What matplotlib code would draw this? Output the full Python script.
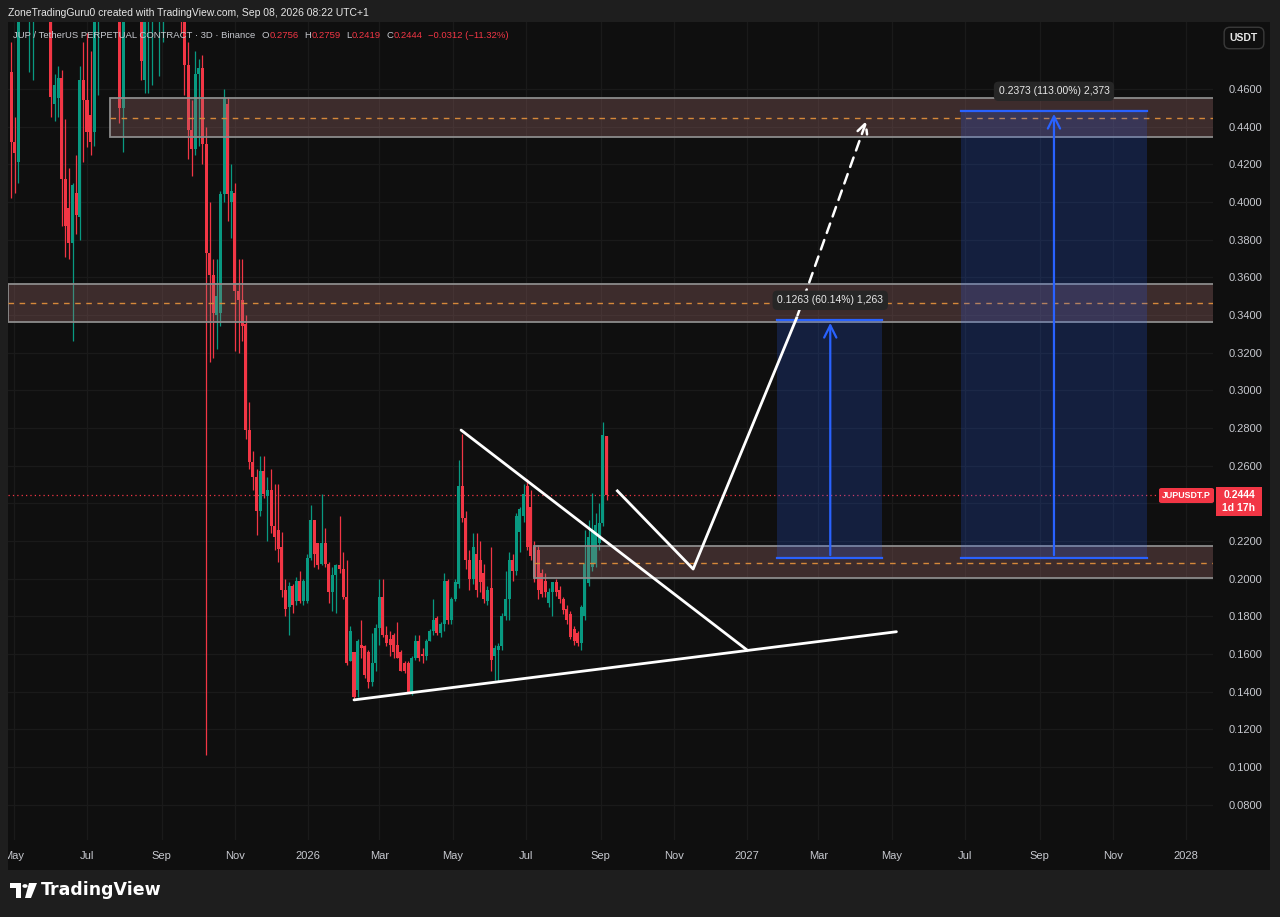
import numpy as np
import pandas as pd
import matplotlib
matplotlib.use("Agg")
import matplotlib.pyplot as plt
import matplotlib.dates as mdates
from matplotlib.patches import Rectangle, Polygon, Circle, FancyBboxPatch
from matplotlib.transforms import Bbox, TransformedBbox

plt.rcParams['font.family'] = ['Liberation Sans', 'DejaVu Sans']

# JUPUSDT.P bougies 3D, du 29 avr 2025 au 6 sept 2026
debut = "2025-04-29"
opens = [
    .469, .432, .421, .510, .540, .510, .500, .520, .550, .530,   # 0
    .510, .510, .452, .455, .466, .412, .397, .378, .405, .392,   # 10
    .465, .454, .446, .437, .500, .530, .560, .550, .530, .545,   # 20
    .520, .450, .510, .525, .515, .530, .510, .465, .500, .520,   # 30
    .540, .520, .540, .550, .580, .560, .520, .535, .510, .473,   # 40
    .438, .428, .468, .471, .431, .373, .361, .340, .341, .404,   # 50
    .452, .400, .405, .353, .348, .335, .279, .262, .254, .236,   # 60
    .257, .244, .247, .228, .226, .217, .194, .185, .196, .188,   # 70
    .199, .188, .188, .211, .231, .219, .208, .219, .208, .193,   # 80
    .202, .207, .205, .190, .156, .161, .141, .165, .164, .161,   # 90
    .145, .155, .174, .190, .170, .168, .170, .165, .161, .155,   # 100
    .155, .140, .158, .167, .160, .159, .167, .172, .179, .171,   # 110
    .176, .199, .178, .189, .197, .249, .232, .210, .200, .213,   # 120
    .210, .203, .188, .195, .159, .162, .164, .180, .189, .210,   # 130
    .204, .225, .233, .249, .238, .217, .215, .203, .199, .187,   # 140
    .193, .198, .194, .189, .184, .181, .173, .171, .1656, .180,  # 150
    .1975, .2063, .208, .2187, .2293, .2756,                      # 160
]
highs = [
    .485, .445, .520, .560, .570, .550, .540, .560, .580, .550,
    .530, .520, .468, .472, .470, .444, .418, .410, .425, .472,
    .485, .490, .480, .520, .540, .570, .600, .580, .560, .570,
    .530, .530, .540, .550, .540, .550, .520, .520, .530, .550,
    .570, .550, .560, .600, .620, .580, .550, .550, .520, .485,
    .454, .480, .476, .478, .440, .400, .370, .370, .406, .460,
    .456, .420, .410, .370, .370, .340, .294, .268, .258, .265,
    .265, .254, .258, .250, .250, .225, .200, .198, .197, .201,
    .204, .200, .213, .239, .231, .219, .245, .227, .209, .206,
    .208, .233, .214, .210, .175, .161, .168, .178, .165, .162,
    .171, .176, .200, .200, .175, .172, .171, .177, .162, .156,
    .156, .159, .170, .170, .163, .168, .173, .189, .180, .177,
    .203, .200, .190, .200, .263, .277, .236, .215, .224, .224,
    .220, .208, .196, .217, .165, .166, .182, .204, .214, .213,
    .235, .238, .250, .253, .247, .220, .218, .205, .203, .195,
    .198, .200, .196, .190, .186, .183, .175, .172, .186, .226,
    .231, .2453, .235, .240, .2833, .2759,
]
lows = [
    .402, .405, .410, .500, .505, .469, .465, .500, .510, .500,
    .498, .445, .443, .445, .387, .371, .370, .326, .383, .380,
    .421, .429, .425, .430, .457, .510, .530, .520, .510, .505,
    .442, .4265, .500, .500, .500, .500, .465, .458, .458, .462,
    .500, .467, .485, .530, .550, .500, .500, .490, .457, .423,
    .414, .425, .430, .420, .1064, .315, .317, .322, .334, .400,
    .390, .381, .321, .320, .326, .274, .258, .247, .223, .233,
    .243, .220, .224, .215, .209, .190, .180, .170, .182, .186,
    .187, .186, .187, .210, .206, .205, .207, .206, .187, .183,
    .182, .203, .189, .154, .156, .136, .137, .158, .147, .142,
    .143, .151, .165, .169, .164, .159, .158, .158, .151, .150,
    .139, .138, .157, .156, .155, .157, .167, .170, .170, .169,
    .172, .176, .176, .188, .195, .230, .205, .194, .197, .190,
    .193, .187, .186, .151, .146, .145, .162, .178, .178, .199,
    .202, .214, .230, .215, .210, .198, .189, .190, .190, .185,
    .180, .191, .187, .181, .176, .168, .165, .164, .162, .178,
    .196, .204, .206, .215, .228, .2419,
]
closes = [
    .432, .426, .510, .540, .520, .530, .520, .550, .530, .510,
    .505, .456, .462, .466, .412, .387, .378, .409, .393, .465,
    .454, .437, .432, .500, .530, .560, .550, .530, .545, .520,
    .450, .510, .525, .515, .530, .510, .475, .500, .520, .540,
    .520, .540, .550, .580, .560, .520, .535, .510, .473, .438,
    .428, .468, .471, .431, .373, .361, .341, .350, .404, .455,
    .404, .406, .353, .348, .334, .279, .262, .254, .236, .257,
    .245, .247, .228, .222, .216, .194, .184, .196, .186, .199,
    .188, .199, .211, .231, .213, .207, .219, .208, .193, .202,
    .207, .205, .190, .155, .172, .137, .167, .163, .149, .145,
    .155, .174, .190, .170, .166, .165, .161, .158, .151, .151,
    .140, .158, .167, .158, .159, .167, .172, .178, .171, .176,
    .199, .178, .189, .198, .249, .232, .210, .200, .217, .194,
    .198, .189, .194, .157, .163, .164, .180, .189, .210, .204,
    .233, .237, .245, .217, .212, .201, .194, .192, .193, .193,
    .198, .193, .189, .1833, .178, .169, .167, .1656, .185, .208,
    .2222, .2258, .2284, .2293, .2762, .2444,
]

# zones dessinees (haut, milieu, bas)
zones_debut = ["2025-07-20", "2025-04-20", "2026-07-08"]
zones_bas = [0.4345, 0.3363, 0.2004]
zones_haut = [0.4552, 0.3565, 0.2174]
zones_milieu = [0.4446, 0.3464, 0.2083]

# positions longues (objectifs)
pos_debut = ["2027-01-26", "2027-06-28"]
pos_fin = ["2027-04-23", "2027-11-29"]
pos_fleche = ["2027-03-11", "2027-09-13"]
pos_base = [0.2110, 0.2110]
pos_cible = [0.3373, 0.4483]
pos_textes = ["0.1263 (60.14%) 1,263", "0.2373 (113.00%) 2,373"]

# lignes de tendance et projection
tl_desc_dates = ["2026-05-08", "2027-01-01"]
tl_desc_prix = [0.2789, 0.1620]
tl_asc_dates = ["2026-02-08", "2027-05-05"]
tl_asc_prix = [0.1356, 0.1718]
proj_dates = ["2026-09-15", "2026-11-17", "2027-02-11"]
proj_prix = [0.2466, 0.2051, 0.3384]
proj_fin_date = "2027-04-11"
proj_fin_prix = 0.4446

dernier_prix = 0.2444

mois_ticks = ["2025-05-01", "2025-07-01", "2025-09-01", "2025-11-01", "2026-01-01",
              "2026-03-01", "2026-05-01", "2026-07-01", "2026-09-01", "2026-11-01",
              "2027-01-01", "2027-03-01", "2027-05-01", "2027-07-01", "2027-09-01",
              "2027-11-01", "2028-01-01"]
mois_labels = ["May", "Jul", "Sep", "Nov", "2026", "Mar", "May", "Jul", "Sep", "Nov",
               "2027", "Mar", "May", "Jul", "Sep", "Nov", "2028"]

VERT = '#089981'
ROUGE = '#f23645'
BLEU = '#2962ff'
GRIS = '#c7c9cf'
W, H = 1280, 917


def px(x, y):
    return x / W, 1 - y / H


def d(s):
    return mdates.date2num(pd.Timestamp(s))


def format_prix(v, p):
    # l'etiquette du prix courant recouvre 0.2400
    if abs(v - 0.24) < 1e-6:
        return ""
    return f"{v:.4f}"


fig = plt.figure(figsize=(12.8, 9.17), dpi=100, facecolor='#1e1e1e')
fig.patches.append(Rectangle(px(8, 870), 1262 / W, 848 / H, transform=fig.transFigure,
                             facecolor='#0f0f0f', edgecolor='none', zorder=-5))
ax = fig.add_axes([8 / W, 1 - 840 / H, 1205 / W, 818 / H])
ax.set_facecolor('#0f0f0f')

o = np.array(opens)
h = np.array(highs)
l = np.array(lows)
c = np.array(closes)
dates = pd.date_range(debut, periods=len(o), freq="3D")
x = mdates.date2num(dates)
couleurs = np.where(c >= o, VERT, ROUGE)

ax.vlines(x, l, h, colors=couleurs, lw=0.9, zorder=2)
ax.bar(x, np.maximum(np.abs(c - o), 0.0008), bottom=np.minimum(o, c), width=2.5,
       color=couleurs, linewidth=0, zorder=3)

x0 = d("2025-07-01") - 79 / 1.2027
x1 = d("2025-07-01") + 1126 / 1.2027
ax.set_xlim(x0, x1)
ax.set_ylim(0.0612, 0.4956)

# zones
for db, bas, haut, mil in zip(zones_debut, zones_bas, zones_haut, zones_milieu):
    xa = max(d(db), x0)
    ax.add_patch(Rectangle((xa, bas), x1 - xa + 5, haut - bas, facecolor='#a87070',
                           alpha=0.3, edgecolor='none', zorder=4))
    ax.add_patch(Rectangle((xa, bas), x1 - xa + 5, haut - bas, facecolor='none',
                           edgecolor='#8c8c8c', lw=1.3, zorder=4))
    ax.plot([xa, x1], [mil, mil], color='#d6883a', lw=1.0, ls=(0, (4, 4)), zorder=4)

# positions longues
for db, fn, fl, base, cible, txt in zip(pos_debut, pos_fin, pos_fleche, pos_base,
                                         pos_cible, pos_textes):
    ax.add_patch(Rectangle((d(db), base), d(fn) - d(db), cible - base,
                           facecolor=BLEU, alpha=0.2, edgecolor='none', zorder=5))
    ax.plot([d(db), d(fn)], [base, base], color=BLEU, lw=1.6, zorder=6)
    ax.plot([d(db), d(fn)], [cible, cible], color=BLEU, lw=1.6, zorder=6)
    ax.annotate("", xy=(d(fl), cible), xytext=(d(fl), base),
                arrowprops=dict(arrowstyle='->', color=BLEU, lw=1.6, mutation_scale=22),
                zorder=6)
    ax.text(d(fl), cible + 0.0105, txt, color='#e8e8e8', fontsize=7.5, ha='center',
            va='center', zorder=8,
            bbox=dict(boxstyle='round,pad=0.45', fc='#262626', ec='none'))

# lignes blanches
ax.plot([d(s) for s in tl_desc_dates], tl_desc_prix, color='white', lw=2, zorder=7,
        solid_capstyle='round')
ax.plot([d(s) for s in tl_asc_dates], tl_asc_prix, color='white', lw=2, zorder=7,
        solid_capstyle='round')
ax.plot([d(s) for s in proj_dates], proj_prix, color='white', lw=2, zorder=7)
ax.annotate("", xy=(d(proj_fin_date), proj_fin_prix),
            xytext=(d(proj_dates[-1]), proj_prix[-1]),
            arrowprops=dict(arrowstyle='->', color='white', lw=1.8, ls=(0, (4, 3)),
                            mutation_scale=18), zorder=7)

# ligne du prix courant
ax.axhline(dernier_prix, color=ROUGE, lw=0.9, ls=(0, (1, 2.5)), zorder=1)

# axes
ax.set_yticks(np.arange(0.08, 0.461, 0.02))
ax.yaxis.set_major_formatter(plt.FuncFormatter(format_prix))
ax.yaxis.tick_right()
ax.tick_params(axis='y', length=0, pad=11, labelsize=8, labelcolor=GRIS)
ax.set_xticks([d(s) for s in mois_ticks])
ax.set_xticklabels(mois_labels)
ax.tick_params(axis='x', length=0, pad=8, labelsize=8, labelcolor=GRIS)
ax.grid(color='#1a1a1a', lw=0.9, zorder=0)
ax.set_axisbelow(True)
for sp in ax.spines.values():
    sp.set_visible(False)

fig.canvas.draw()
boite = TransformedBbox(Bbox([[8 / W, 0], [1270 / W, 1]]), fig.transFigure)
for t in ax.get_xticklabels():
    t.set_clip_on(True)
    t.set_clip_box(boite)

# textes d'en-tete
fig.text(*px(8, 13), "ZoneTradingGuru0 created with TradingView.com, Sep 08, 2026 08:22 UTC+1",
         color='#e6e6e6', fontsize=7.5, va='center', ha='left')

rend = fig.canvas.get_renderer()
morceaux = [("JUP / TetherUS PERPETUAL CONTRACT · 3D · Binance", GRIS, 6),
            ("O", GRIS, 1), ("0.2756", ROUGE, 5), ("H", GRIS, 1), ("0.2759", ROUGE, 5),
            ("L", GRIS, 1), ("0.2419", ROUGE, 5), ("C", GRIS, 1), ("0.2444", ROUGE, 5),
            ("\u22120.0312 (\u221211.32%)", ROUGE, 0)]
xp = 13
for txt, col, ecart in morceaux:
    t = fig.text(*px(xp, 36), txt, color=col, fontsize=6.8, va='center', ha='left',
                 zorder=10)
    xp += t.get_window_extent(rend).width + ecart

# boite USDT
fig.text(*px(1244, 38), "USDT", color='#e6e6e6', fontsize=7.5, fontweight='bold',
         ha='center', va='center',
         bbox=dict(boxstyle='round,pad=0.55', fc='#0f0f0f', ec='#3a3a3a', lw=1))

# etiquettes du prix courant
fig.patches.append(FancyBboxPatch(px(1159, 503), 55 / W, 15 / H,
                                  boxstyle='round,pad=0,rounding_size=0.002',
                                  transform=fig.transFigure, fc=ROUGE, ec='none', zorder=5))
fig.text(*px(1186.5, 495.5), "JUPUSDT.P", color='white', fontsize=6.4, fontweight='bold',
         ha='center', va='center', zorder=6)
fig.patches.append(Rectangle(px(1216, 516), 46 / W, 29 / H, transform=fig.transFigure,
                             fc=ROUGE, ec='none', zorder=5))
fig.text(*px(1239, 495), "0.2444", color='white', fontsize=7.5, fontweight='bold',
         ha='center', va='center', zorder=6)
fig.text(*px(1239, 508), "1d 17h", color='white', fontsize=7.5, fontweight='bold',
         ha='center', va='center', zorder=6)

# logo TradingView
fig.patches.append(Polygon([px(10, 883), px(21, 883), px(21, 898), px(16, 898),
                            px(16, 888), px(10, 888)], closed=True,
                           transform=fig.transFigure, fc='white', ec='none'))
fig.patches.append(Circle(px(25, 886), 2.6 / W, transform=fig.transFigure, fc='white',
                          ec='none'))
fig.patches.append(Polygon([px(29, 883), px(37, 883), px(31, 898), px(25, 898)],
                           closed=True, transform=fig.transFigure, fc='white', ec='none'))
fig.text(*px(41, 890), "TradingView", color='white', fontsize=12.5, fontweight='bold',
         ha='left', va='center', family=['DejaVu Sans'])

fig.savefig("out.png", dpi=100, facecolor=fig.get_facecolor())
